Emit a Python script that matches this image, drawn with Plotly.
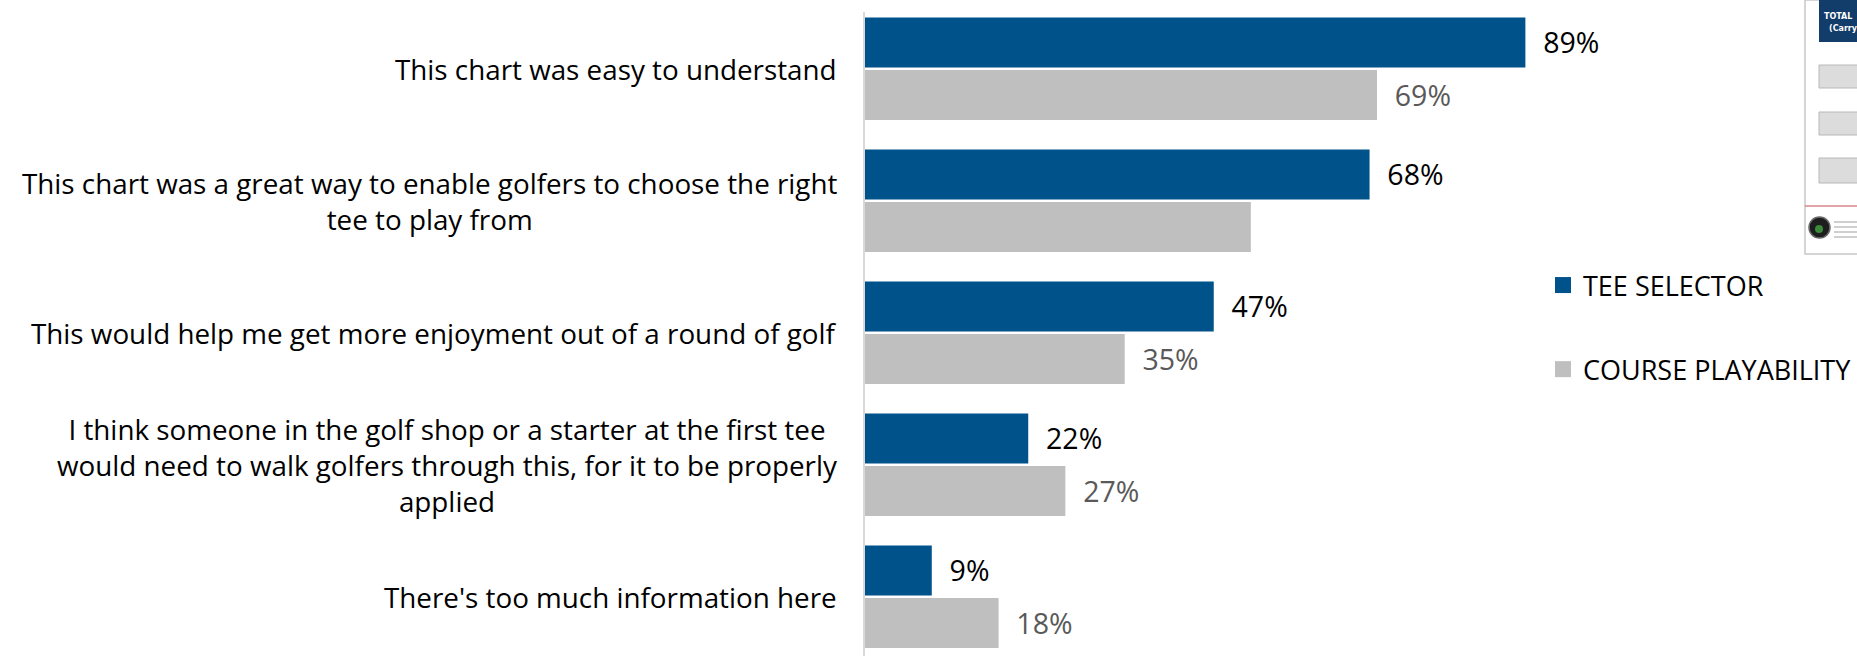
import plotly.graph_objects as go

# survey statements (line breaks as in the original slide)
statements = [
    "This chart was easy to understand",
    "This chart was a great way to enable golfers to choose the right<br>tee to play from",
    "This would help me get more enjoyment out of a round of golf",
    "I think someone in the golf shop or a starter at the first tee<br>would need to walk golfers through this, for it to be properly<br>applied",
    "There's too much information here",
]
tee_selector = [89, 68, 47, 22, 9]
course_playability = [69, 52, 35, 27, 18]
tee_labels = ["89%", "68%", "47%", "22%", "9%"]
course_labels = ["69%", "", "35%", "27%", "18%"]   # no label shown on the 2nd grey bar

series_names = ["TEE SELECTOR", "COURSE PLAYABILITY"]

BLUE = "#00528A"
GREY = "#BFBFBF"
FONT = "Open Sans"
W, H = 1857, 656
pad = "\u00a0\u00a0"

fig = go.Figure()

fig.add_trace(go.Bar(
    y=statements, x=tee_selector, orientation="h",
    marker=dict(color=BLUE, line=dict(width=0)),
    text=[pad + t for t in tee_labels], textposition="outside",
    textfont=dict(family=FONT, size=28.5, color="#000000"),
    cliponaxis=False, showlegend=False, hoverinfo="x+y",
))
fig.add_trace(go.Bar(
    y=statements, x=course_playability, orientation="h",
    marker=dict(color=GREY, line=dict(width=0)),
    text=[pad + t if t else "" for t in course_labels], textposition="outside",
    textfont=dict(family=FONT, size=28.5, color="#595959"),
    cliponaxis=False, showlegend=False, hoverinfo="x+y",
))

# legend entries (square swatches)
for name, col in zip(series_names, [BLUE, GREY]):
    fig.add_trace(go.Scatter(
        x=[None], y=[None], mode="markers", name=name, legendgroup=name,
        marker=dict(symbol="square", size=18, color=col),
    ))

# category labels, centred blocks right-aligned against the axis
for s in statements:
    fig.add_annotation(
        x=839 / W, xref="paper", y=s, yref="y",
        text=s, showarrow=False, align="center",
        xanchor="right", yanchor="middle",
        font=dict(family=FONT, size=27.8, color="#000000"),
    )

# ---- cropped thumbnail of the scorecard at the right edge ----
def px(x):
    return x / W

def py(y):
    return 1 - y / H

def pshape(**kw):
    return dict(xref="paper", yref="paper", **kw)

thumb = [
    pshape(type="rect", x0=px(1805), x1=px(1870), y0=py(0), y1=py(254),
           line=dict(color="#C8C8C8", width=1.5), fillcolor="white"),
    pshape(type="rect", x0=px(1819), x1=px(1870), y0=py(0), y1=py(42),
           line=dict(width=0), fillcolor="#123C69"),
    pshape(type="line", x0=px(1805), x1=px(1870), y0=py(206), y1=py(206),
           line=dict(color="#D9848C", width=1.5)),
    pshape(type="circle", x0=px(1809), x1=px(1830), y0=py(217), y1=py(238),
           line=dict(color="#6A6A6A", width=1.5), fillcolor="#1E1E1E"),
    pshape(type="circle", x0=px(1815), x1=px(1823), y0=py(225), y1=py(233),
           line=dict(width=0), fillcolor="#3A8A3A"),
]
for y0, y1 in [(65, 88), (112, 135), (158, 183)]:
    thumb.append(pshape(type="rect", x0=px(1819), x1=px(1870), y0=py(y0), y1=py(y1),
                        line=dict(color="#B8B8B8", width=1), fillcolor="#DCDCDC"))
for y0 in [222, 227, 232, 237]:
    thumb.append(pshape(type="line", x0=px(1834), x1=px(1857), y0=py(y0), y1=py(y0),
                        line=dict(color="#A0A0A0", width=1)))
fig.update_layout(shapes=thumb)
fig.add_annotation(x=px(1822), y=py(17), xref="paper", yref="paper", text="<b>TOTAL</b>",
                   showarrow=False, xanchor="left", yanchor="middle",
                   font=dict(family="DejaVu Sans", size=8, color="white"))
fig.add_annotation(x=px(1827), y=py(28), xref="paper", yref="paper", text="<b>(Carry)</b>",
                   showarrow=False, xanchor="left", yanchor="middle",
                   font=dict(family="DejaVu Sans", size=8, color="white"))

fig.update_layout(
    width=W, height=H,
    margin=dict(l=0, r=0, t=0, b=0),
    paper_bgcolor="white", plot_bgcolor="white",
    barmode="group", bargap=0.205, bargroupgap=0.047,
    font=dict(family=FONT, color="#000000"),
    xaxis=dict(domain=[865 / W, 1607 / W], range=[0, 100], visible=False),
    yaxis=dict(
        domain=[0, 1 - 12 / H], type="category",
        categoryorder="array", categoryarray=statements,
        range=[4.449, -0.4295],
        showticklabels=False, showgrid=False, zeroline=False,
        showline=True, linecolor="#D9D9D9", linewidth=2, ticks="",
    ),
    legend=dict(
        x=1543 / W, y=py(261), xanchor="left", yanchor="top",
        font=dict(family=FONT, size=27, color="#000000"),
        tracegroupgap=46, traceorder="grouped", bgcolor="rgba(0,0,0,0)",
    ),
)

# drop the browser's default 8px body margin so the figure sits at the page origin
fig.write_html("out.html", config={"displayModeBar": False},
               post_script="document.body.style.margin='0';document.body.style.overflow='hidden';")
